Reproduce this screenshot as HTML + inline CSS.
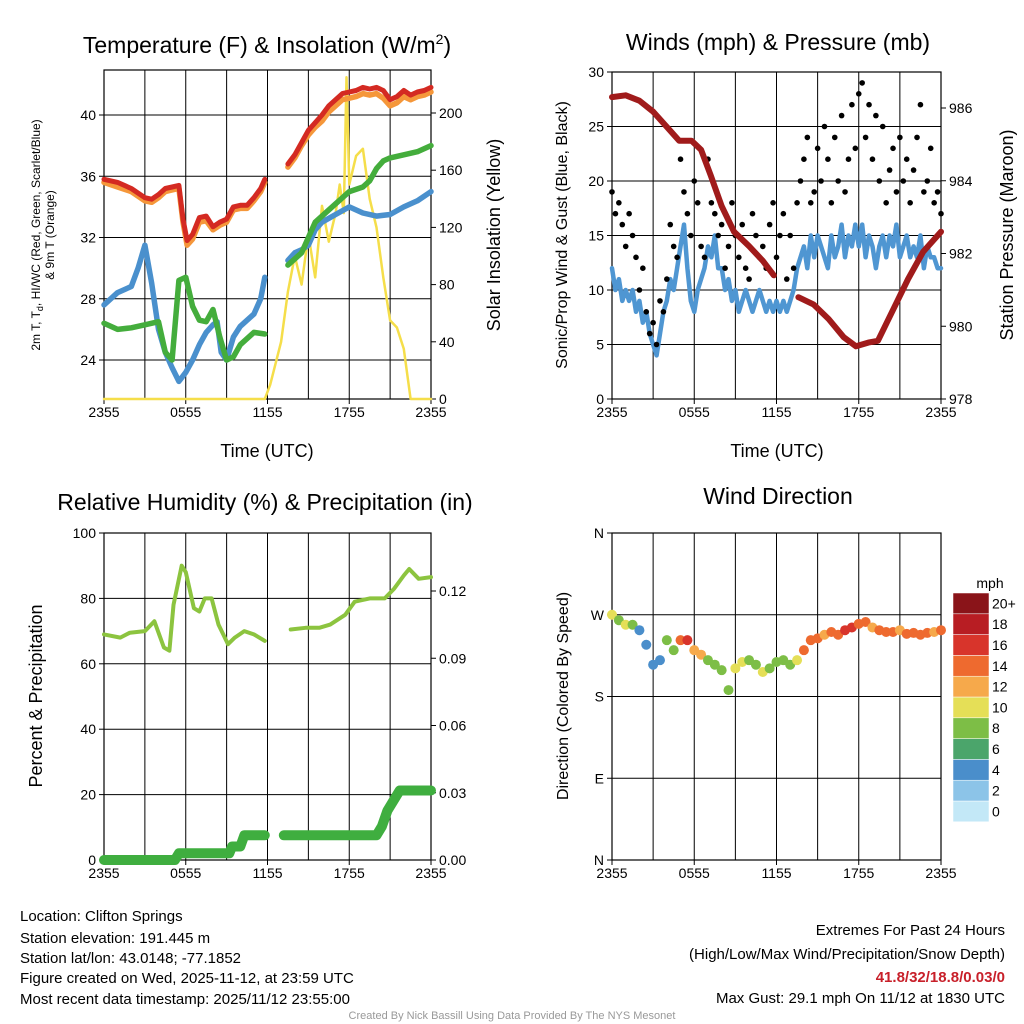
<!DOCTYPE html>
<html><head><meta charset="utf-8">
<style>
body{margin:0;background:#fff;}
svg{display:block;font-family:"Liberation Sans",Arial,sans-serif;}
</style></head>
<body>
<svg id="c" width="1024" height="1024" viewBox="0 0 1024 1024" xmlns="http://www.w3.org/2000/svg">
<g id="titles">
<text x="267" y="53" font-size="23" text-anchor="middle">Temperature (F) &amp; Insolation (W/m<tspan font-size="14" dy="-9">2</tspan><tspan dy="9">)</tspan></text>
<text x="778" y="50" font-size="23" text-anchor="middle">Winds (mph) &amp; Pressure (mb)</text>
<text x="265" y="510" font-size="23" text-anchor="middle">Relative Humidity (%) &amp; Precipitation (in)</text>
<text x="778" y="504" font-size="23" text-anchor="middle">Wind Direction</text>
</g>
<g>
<text transform="translate(40,235) rotate(-90)" font-size="12" text-anchor="middle">2m T, T<tspan font-size="9" dy="3">d</tspan><tspan dy="-3">, HI/WC (Red, Green, Scarlet/Blue)</tspan></text>
<text transform="translate(54,235) rotate(-90)" font-size="12" text-anchor="middle">&amp; 9m T (Orange)</text>
<text transform="translate(500,235) rotate(-90)" font-size="18" text-anchor="middle">Solar Insolation (Yellow)</text>
<text transform="translate(567,235) rotate(-90)" font-size="16" text-anchor="middle">Sonic/Prop Wind &amp; Gust (Blue, Black)</text>
<text transform="translate(1013,235) rotate(-90)" font-size="18" text-anchor="middle">Station Pressure (Maroon)</text>
<text transform="translate(42,696) rotate(-90)" font-size="18" text-anchor="middle">Percent &amp; Precipitation</text>
<text transform="translate(568,696) rotate(-90)" font-size="16" text-anchor="middle">Direction (Colored By Speed)</text>
<text x="267" y="457" font-size="18" text-anchor="middle">Time (UTC)</text>
<text x="777" y="457" font-size="18" text-anchor="middle">Time (UTC)</text>
</g>
<g font-size="15">
<text x="20" y="921">Location: Clifton Springs</text>
<text x="20" y="943">Station elevation: 191.445 m</text>
<text x="20" y="963">Station lat/lon: 43.0148; -77.1852</text>
<text x="20" y="983">Figure created on Wed, 2025-11-12, at 23:59 UTC</text>
<text x="20" y="1004">Most recent data timestamp: 2025/11/12 23:55:00</text>
<text x="1005" y="935" text-anchor="end">Extremes For Past 24 Hours</text>
<text x="1005" y="959" text-anchor="end">(High/Low/Max Wind/Precipitation/Snow Depth)</text>
<text x="1005" y="982" text-anchor="end" font-weight="bold" fill="#c8202a">41.8/32/18.8/0.03/0</text>
<text x="1005" y="1003" text-anchor="end">Max Gust: 29.1 mph On 11/12 at 1830 UTC</text>
<text x="512" y="1019" text-anchor="middle" font-size="11" fill="#999">Created By Nick Bassill Using Data Provided By The NYS Mesonet</text>
</g>
</svg>
<script>
// ---- data (hours since 2355) ----
const xTickLabels=["2355","0555","1155","1755","2355"];
const tempHours=[0,1,2,3,3.5,4,4.5,5,5.5,5.8,6.1,6.5,7,7.5,8,8.5,9,9.5,10,10.5,11,11.5,11.8,null,13.5,14,14.5,15,15.5,16,16.5,17,17.5,18,18.5,19,19.5,20,20.5,21,21.5,22,22.5,23,23.5,24];
const tempRed=[35.8,35.6,35.2,34.6,34.5,34.8,35.2,35.3,35.4,33.2,31.8,32.2,33.3,33.4,32.7,33.0,33.2,34.0,34.1,34.1,34.6,35.2,35.8,null,36.8,37.4,38.2,39.0,39.5,40.0,40.6,41.0,41.4,41.5,41.6,41.8,41.7,41.8,41.6,41.0,41.2,41.6,41.3,41.5,41.6,41.8];
const tempOrange=[35.6,35.3,35.0,34.4,34.3,34.6,35.0,35.1,35.2,33.0,31.5,31.9,33.0,33.1,32.5,32.8,33.0,33.8,33.9,33.9,34.4,35.0,35.6,null,36.6,37.2,38.0,38.7,39.2,39.6,40.2,40.6,41.0,41.1,41.2,41.4,41.3,41.4,41.1,40.6,40.8,41.2,41.0,41.2,41.3,41.5];
const dewHours=[0,1,2,3,4,4.5,5,5.5,6,6.5,7,7.5,8,8.5,9,9.5,10,11,11.8,null,13.5,14.5,15.5,16.5,17,18,19,19.5,20,20.5,21,22,23,24];
const dewGreen=[26.4,26.0,26.1,26.3,26.5,24.5,24.0,29.2,29.4,27.5,26.6,26.5,27.3,25.5,24.0,24.2,25.0,25.8,25.7,null,30.2,31.0,33.0,33.8,34.2,35.0,35.3,35.7,36.5,37.0,37.2,37.4,37.6,38.0];
const hiHours=[0,1,2,2.5,3,3.5,4,4.5,5,5.5,6,6.5,7,7.5,8,8.3,8.6,9,9.5,10,11,11.5,11.8,null,13.5,14,14.5,15,15.5,16,17,18,19,20,21,22,23,24];
const hiBlue=[27.6,28.4,28.8,30.0,31.5,29.0,26.0,24.5,23.5,22.6,23.2,24.0,25.0,25.8,26.3,26.5,24.5,24.0,25.5,26.2,27.0,28.0,29.4,null,30.5,31.0,31.2,31.5,32.5,33.0,33.5,34.0,33.6,33.4,33.5,34.0,34.4,35.0];
const solarHours=[0,11.8,12.2,13.0,13.5,14,14.5,15,15.5,16,16.5,17,17.3,17.6,17.8,18,18.5,19,19.5,20,20.5,21,21.5,22,22.5,24];
const solarVals=[0,0,10,40,75,100,80,115,85,135,110,130,150,130,225,150,170,175,140,120,85,55,50,35,0,0];
// winds (every 0.25 h)
const windVals=[12,10,11,9,10,9,10,8,9,7,8,6,5,4,6,8,9,11,10,12,14,16,12,9,8,10,11,12,14,13,15,12,12,10,11,9,10,8,9,10,9,8,9,10,9,8,9,8,9,8,9,8,9,10,12,13,14,12,15,13,15,14,13,12,15,13,14,16,13,15,14,16,14,16,13,15,14,12,14,15,13,15,14,16,13,14,15,13,14,13,15,12,14,13,13,12,12];
const gustVals=[19,17,18,16,14,17,15,13,10,12,8,6,7,5,9,8,11,16,14,13,22,19,17,15,20,18,14,13,22,18,17,15,16,12,14,18,15,13,16,12,11,17,15,13,14,12,16,18,13,15,17,11,15,12,18,20,22,24,18,19,23,20,25,22,18,24,20,26,19,22,27,23,28,29,24,27,22,26,20,25,18,21,23,19,24,20,22,18,21,24,27,19,20,23,18,19,17];
const presHours=[0,1,2,3,4.9,5.8,6.5,7.2,8,8.9,10,11,11.8,null,13.6,14.7,15.8,16.9,17.8,18.7,19.4,20.5,21.6,22.7,24];
const presVals=[986.3,986.35,986.2,985.9,985.1,985.1,984.85,984.15,983.3,982.6,982.2,981.8,981.4,null,980.8,980.6,980.2,979.7,979.45,979.55,979.6,980.45,981.3,982.05,982.6];
// humidity / precip
const rhHours=[0,1.2,1.9,3,3.7,4.4,4.8,5.1,5.7,6,6.6,7,7.4,7.9,8.4,9.1,9.6,10.3,11,11.8,null,13.7,14.8,15.8,16.6,17.7,18.4,19.5,20.6,21.3,22.0,22.4,23.1,24];
const rhVals=[69,68,69.5,70,73,65,64,78,90,88,77,76,80,80,72,66,68,70,69,67,null,70.5,71,71,72,75,79,80,80,83,87,89,86,86.5];
const prHours=[0,5.2,5.5,9.2,9.4,10,10.3,11.8,null,13.2,20.0,20.4,20.8,21.3,21.7,24];
const prVals=[0,0,0.003,0.003,0.006,0.006,0.011,0.011,null,0.011,0.011,0.015,0.022,0.027,0.031,0.031];
// wind direction (every 0.5 h)
const dirVals=[270,264,259,259,253,237,215,220,242,231,242,242,231,226,220,215,209,187,211,218,220,215,207,211,218,220,215,220,231,242,244,248,251,248,253,256,260,262,256,253,251,251,253,249,250,248,250,251,253];
const dirSpeed=[10,9,10,9,5,4,5,5,8,8,14,16,12,12,8,8,9,9,10,10,8,9,10,9,9,8,8,10,14,15,14,13,14,14,17,16,15,14,13,14,15,14,13,14,14,15,14,13,14];
const cbLabels=["0","2","4","6","8","10","12","14","16","18","20+"];
const cbColors=["#c3e8f7","#8cc4e8","#4a8ecb","#4ba56b","#7dbe46","#e5df57","#f6a94b","#ee6a2f","#d8342b","#b81d23","#8a1419"];

const svg=document.getElementById('c');
const NS="http://www.w3.org/2000/svg";
function mk(tag,attrs,parent){const e=document.createElementNS(NS,tag);for(const k in attrs)e.setAttribute(k,attrs[k]);(parent||svg).appendChild(e);return e;}
function scale(d0,d1,r0,r1){return v=>r0+(v-d0)/(d1-d0)*(r1-r0);}

function frame(name,x0,x1,y0,y1){
  const g=mk('g',{});
  
  
  const xs=scale(0,24,x0,x1);
  for(let h=3;h<24;h+=3){const l=mk('line',{x1:xs(h),x2:xs(h),y1:y0,y2:y1,stroke:'#000','stroke-width':1},g);}
  for(let i=0;i<xTickLabels.length;i++){const h=i*6;const t=mk('text',{x:xs(h),y:y1+18,'font-size':14,'text-anchor':'middle'},g);t.textContent=xTickLabels[i];
    mk('line',{x1:xs(h),x2:xs(h),y1:y1,y2:y1+5,stroke:'#000'},g);}
  mk('rect',{x:x0,y:y0,width:x1-x0,height:y1-y0,fill:'none',stroke:'#000','stroke-width':1.2},g);
  return {g,xs};
}
function hgrid(g,ys,vals,labels,x0,x1,side){
  vals.forEach((v,i)=>{const y=ys(v);
    if(side==='grid'){const l=mk('line',{x1:x0,x2:x1,y1:y,y2:y,stroke:'#000','stroke-width':1},g);}
    const left=side!=='right';
    const tx=left?x0-8:x1+8;
    mk('line',{x1:left?x0-5:x1,x2:left?x0:x1+5,y1:y,y2:y,stroke:'#000'},g);
    const t=mk('text',{x:tx,y:y+5,'font-size':14,'text-anchor':left?'end':'start'},g);t.textContent=labels[i];
    
  });
}
function line(g,hs,vs,xs,ys,color,w,name){
  let d='',pen=false;
  for(let i=0;i<hs.length;i++){if(hs[i]===null||vs[i]===null){pen=false;continue;}d+=(pen?'L':'M')+xs(hs[i]).toFixed(1)+','+ys(vs[i]).toFixed(1);pen=true;}
  const p=mk('path',{d,fill:'none',stroke:color,'stroke-width':w,'stroke-linejoin':'round','stroke-linecap':'round'},g);
  
  
}

// Panel 1
(function(){const x0=104,x1=431,y0=70,y1=399;const f=frame('temperature-panel',x0,x1,y0,y1);
 const ys=scale(24,40,360,115), ys2=scale(0,200,399,113);
 hgrid(f.g,ys,[24,28,32,36,40],["24","28","32","36","40"],x0,x1,'grid');
 hgrid(f.g,ys2,[0,40,80,120,160,200],["0","40","80","120","160","200"],x0,x1,'right');
 line(f.g,solarHours,solarVals,f.xs,ys2,'#f5de4a',2.5,'solar-insolation-line');
 line(f.g,hiHours,hiBlue,f.xs,ys,'#4a90cd',5.5,'heat-index-line');
 line(f.g,dewHours,dewGreen,f.xs,ys,'#44ad3c',5.5,'dewpoint-line');
 line(f.g,tempHours,tempOrange,f.xs,ys,'#f5973a',5.5,'temp-9m-line');
 line(f.g,tempHours,tempRed,f.xs,ys,'#d42a22',5,'temp-2m-line');})();
// Panel 2
(function(){const x0=612,x1=941,y0=72,y1=399;const f=frame('winds-panel',x0,x1,y0,y1);
 const ys=scale(0,30,399,72), ys2=scale(978,986,399,108);
 hgrid(f.g,ys,[0,5,10,15,20,25,30],["0","5","10","15","20","25","30"],x0,x1,'grid');
 hgrid(f.g,ys2,[978,980,982,984,986],["978","980","982","984","986"],x0,x1,'right');
 const wh=windVals.map((v,i)=>i*0.25);
 line(f.g,wh,windVals,f.xs,ys,'#4f96d2',4.5,'wind-speed-line');
 gustVals.forEach((v,i)=>{const c=mk('circle',{cx:f.xs(i*0.25),cy:ys(v),r:2.8,fill:'#000'},f.g);});
 line(f.g,presHours,presVals,f.xs,ys2,'#a01b1b',6,'pressure-line');})();
// Panel 3
(function(){const x0=104,x1=431,y0=533,y1=860;const f=frame('humidity-panel',x0,x1,y0,y1);
 const ys=scale(0,100,860,533), ys2=scale(0,0.12,860,591);
 hgrid(f.g,ys,[0,20,40,60,80,100],["0","20","40","60","80","100"],x0,x1,'grid');
 hgrid(f.g,ys2,[0,0.03,0.06,0.09,0.12],["0.00","0.03","0.06","0.09","0.12"],x0,x1,'right');
 line(f.g,rhHours,rhVals,f.xs,ys,'#8cc43f',4,'humidity-line');
 line(f.g,prHours,prVals,f.xs,ys2,'#3fae3f',10,'precip-line');})();
// Panel 4
(function(){const x0=612,x1=941,y0=533,y1=860;const f=frame('wind-direction-panel',x0,x1,y0,y1);
 const ys=scale(0,360,860,533);
 hgrid(f.g,ys,[0,90,180,270,360],["N","E","S","W","N"],x0,x1,'grid');
 dirVals.forEach((v,i)=>{const b=Math.min(10,Math.floor(dirSpeed[i]/2));const c=mk('circle',{cx:f.xs(i*0.5),cy:ys(v),r:5,fill:cbColors[b]},f.g);});
 const cb=mk('g',{});
 const t=mk('text',{x:990,y:588,'font-size':14,'text-anchor':'middle'},cb);t.textContent='mph';
 const top=593,bh=20.8;
 for(let i=0;i<cbColors.length;i++){const y=top+(10-i)*bh;mk('rect',{x:953,y:y,width:36,height:bh,fill:cbColors[i],stroke:'#fff','stroke-width':0.5},cb);
  const l=mk('text',{x:992,y:y+bh/2+5,'font-size':14},cb);l.textContent=cbLabels[i];}
})();
</script>
</body></html>
